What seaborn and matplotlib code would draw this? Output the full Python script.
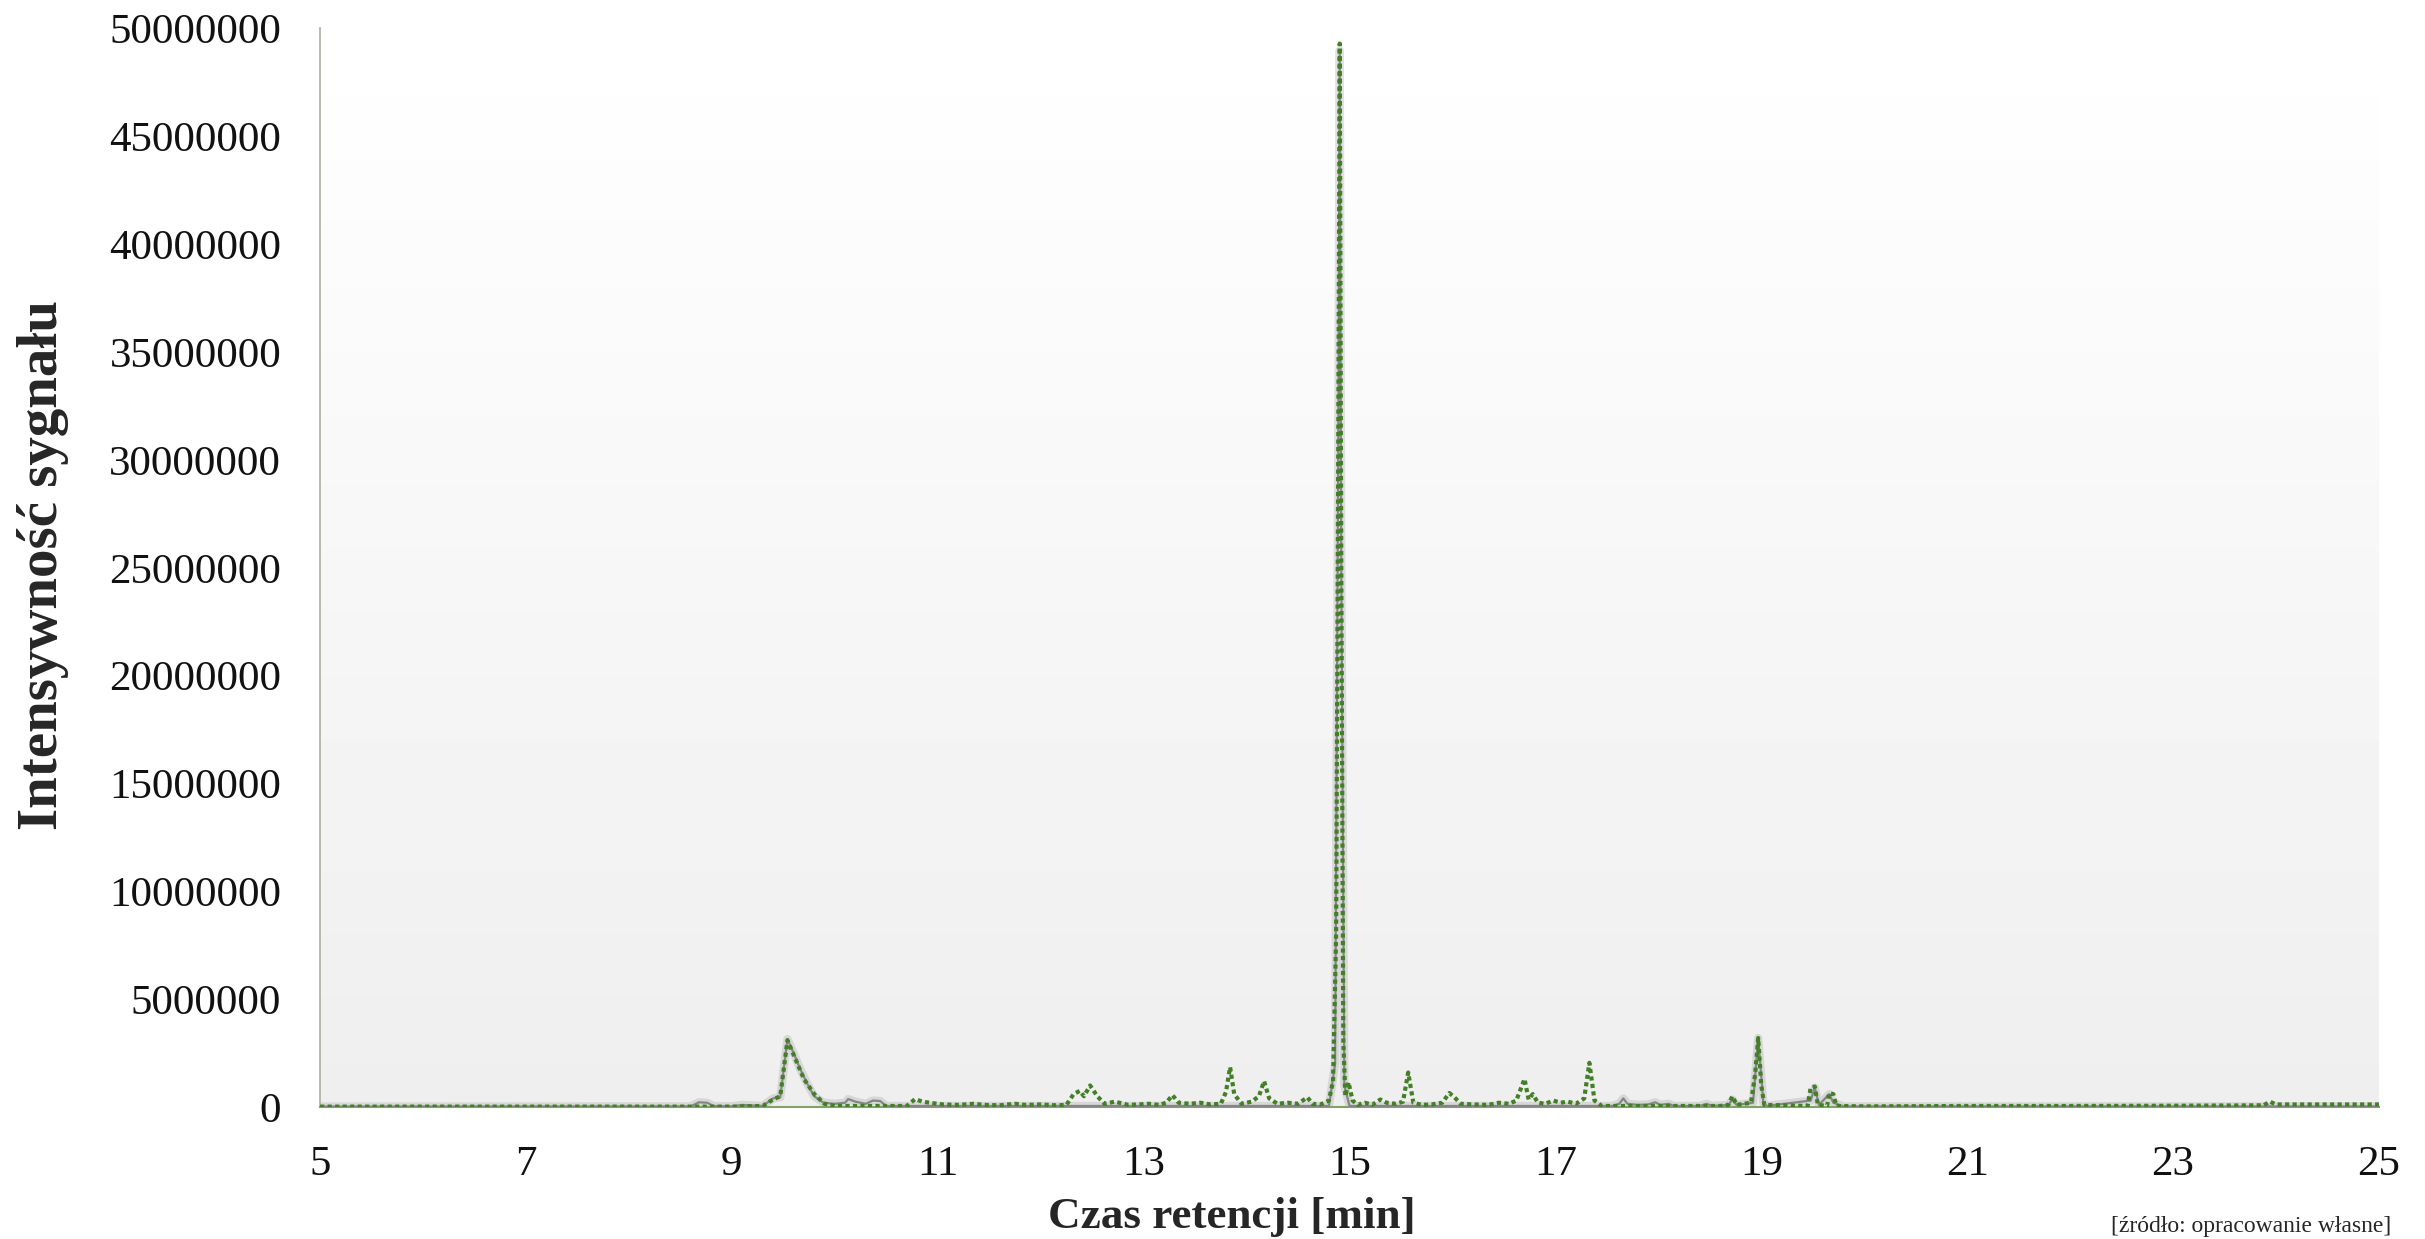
"""
Chromatogram: Intensywność sygnału vs czas retencji.
"""

import numpy as np
import pandas as pd
import matplotlib
matplotlib.use("Agg")
import matplotlib.pyplot as plt
import seaborn as sns

# green dotted series (time [min], intensity [mln])
green_time = [5.0, 9.0, 9.3, 9.40, 9.47, 9.54, 9.62, 9.70, 9.80, 9.90, 10.0, 10.70,
              10.78, 10.85, 10.95, 11.05, 11.2, 11.35, 11.45, 11.6, 11.75, 11.85, 12.0,
              12.15, 12.25, 12.32, 12.38, 12.42, 12.48, 12.55, 12.62, 12.72, 12.85, 12.95,
              13.05, 13.15, 13.22, 13.28, 13.34, 13.45, 13.55, 13.65, 13.75, 13.80, 13.84,
              13.88, 13.95, 14.05, 14.12, 14.17, 14.22, 14.3, 14.4, 14.5, 14.59, 14.64,
              14.72, 14.80, 14.84, 14.87, 14.89, 14.905, 14.92, 14.94, 14.96, 14.99, 15.03,
              15.08, 15.15, 15.22, 15.3, 15.36, 15.45, 15.52, 15.57, 15.62, 15.7, 15.8,
              15.9, 15.97, 16.02, 16.08, 16.2, 16.35, 16.45, 16.55, 16.62, 16.70, 16.74,
              16.78, 16.83, 16.9, 16.98, 17.05, 17.12, 17.2, 17.28, 17.33, 17.38, 17.45,
              18.6, 18.68, 18.72, 18.76, 18.90, 18.94, 18.97, 19.0, 19.03, 19.45, 19.48,
              19.52, 19.55, 19.64, 19.66, 19.70, 19.73, 20.0, 21.0, 22.0, 23.0, 23.88,
              23.94, 24.0, 24.5, 25.0]
green_mln = [0.02, 0.02, 0.05, 0.35, 0.5, 3.1, 2.2, 1.3, 0.6, 0.15, 0.05, 0.05,
             0.37, 0.25, 0.18, 0.12, 0.1, 0.15, 0.1, 0.08, 0.15, 0.1, 0.12,
             0.08, 0.1, 0.6, 0.75, 0.5, 1.0, 0.5, 0.15, 0.25, 0.1, 0.12,
             0.15, 0.1, 0.2, 0.55, 0.2, 0.15, 0.2, 0.12, 0.15, 0.7, 1.85,
             0.6, 0.15, 0.25, 0.5, 1.2, 0.4, 0.15, 0.2, 0.15, 0.45, 0.15,
             0.12, 0.3, 1.2, 8.0, 30.0, 49.3, 25.0, 3.0, 0.5, 1.15, 0.3,
             0.1, 0.2, 0.1, 0.35, 0.2, 0.15, 0.25, 1.6, 0.2, 0.1, 0.12,
             0.2, 0.65, 0.45, 0.15, 0.12, 0.1, 0.2, 0.15, 0.3, 1.3, 0.35,
             0.6, 0.2, 0.15, 0.3, 0.2, 0.25, 0.15, 0.4, 2.05, 0.3, 0.05,
             0.05, 0.1, 0.5, 0.1, 0.2, 1.5, 3.2, 1.0, 0.1, 0.05, 0.9,
             0.95, 0.1, 0.05, 0.65, 0.6, 0.05, 0.03, 0.05, 0.05, 0.06, 0.08,
             0.25, 0.12, 0.12, 0.12]

# gray solid series
gray_time = [5.0, 8.6, 8.68, 8.76, 8.82, 9.0, 9.1, 9.3, 9.40, 9.47, 9.54, 9.60, 9.66,
             9.73, 9.80, 9.89, 10.0, 10.1, 10.13, 10.2, 10.3, 10.37, 10.44, 10.5, 14.8,
             14.86, 14.89, 14.905, 14.92, 14.95, 15.0, 17.55, 17.62, 17.66, 17.70, 17.8,
             17.9, 17.97, 18.02, 18.1, 18.15, 18.4, 18.47, 18.52, 18.68, 18.72, 18.76,
             18.92, 18.97, 19.02, 19.05, 19.48, 19.52, 19.56, 19.66, 19.70, 19.8, 25.0]
gray_mln = [0.02, 0.03, 0.22, 0.2, 0.05, 0.03, 0.1, 0.05, 0.4, 0.45, 3.15, 2.5, 1.8,
            1.1, 0.5, 0.2, 0.15, 0.2, 0.37, 0.25, 0.15, 0.3, 0.28, 0.05, 0.05,
            2.0, 30.0, 49.0, 25.0, 1.0, 0.05, 0.05, 0.15, 0.4, 0.15, 0.1,
            0.12, 0.22, 0.1, 0.15, 0.05, 0.05, 0.15, 0.05, 0.1, 0.35, 0.1,
            0.2, 3.2, 0.2, 0.05, 0.3, 0.9, 0.1, 0.6, 0.2, 0.03, 0.03]

x_ticks = [5, 7, 9, 11, 13, 15, 17, 19, 21, 23, 25]
y_ticks = [0, 5000000, 10000000, 15000000, 20000000, 25000000,
           30000000, 35000000, 40000000, 45000000, 50000000]

sns.set_style("white")
plt.rcParams["font.family"] = ["Liberation Serif", "DejaVu Serif"]

green = pd.DataFrame({"czas": green_time, "intensywnosc": np.array(green_mln) * 1e6})
gray = pd.DataFrame({"czas": gray_time, "intensywnosc": np.array(gray_mln) * 1e6})

fig = plt.figure(figsize=(24.25, 12.39), dpi=100)
ax = fig.add_axes([0.132, 0.1065, 0.849, 0.8705])

# light vertical gradient in the plot area
grad = np.linspace(1.0, 0.935, 256).reshape(-1, 1)
ax.imshow(grad, cmap="gray", vmin=0, vmax=1, aspect="auto",
          extent=[0, 1, 0, 1], transform=ax.transAxes, zorder=0)

# gray series with soft shadow
sns.lineplot(data=gray, x="czas", y="intensywnosc", color="#a0a0a0", lw=6,
             alpha=0.3, ax=ax, zorder=2)
sns.lineplot(data=gray, x="czas", y="intensywnosc", color="#858585", lw=1.6,
             ax=ax, zorder=3)
sns.lineplot(data=green, x="czas", y="intensywnosc", color="#437f26", lw=3.0,
             linestyle=(0, (1, 0.8)), ax=ax, zorder=4)

ax.set_xlim(5, 25)
ax.set_ylim(0, 50000000)
ax.set_xticks(x_ticks)
ax.set_yticks(y_ticks)
ax.set_xticklabels([str(t) for t in x_ticks])
ax.set_yticklabels([str(t) for t in y_ticks])
ax.tick_params(axis="both", length=0, labelsize=31, colors="#111111")
ax.tick_params(axis="y", pad=28)
ax.tick_params(axis="x", pad=28)

for s in ["top", "right"]:
    ax.spines[s].set_visible(False)
ax.spines["left"].set_color("#a8b0a0")
ax.spines["left"].set_linewidth(1.2)
ax.spines["bottom"].set_color("#7fa566")
ax.spines["bottom"].set_linewidth(1.5)

ax.set_xlabel("Czas retencji [min]", fontsize=32.5, fontweight="bold")
ax.xaxis.set_label_coords(0.443, -0.083)
ax.set_ylabel("Intensywność sygnału", fontsize=41, fontweight="bold")
ax.yaxis.set_label_coords(-0.122, 0.503)

fig.text(0.986, 0.002, "[źródło: opracowanie własne]", fontsize=17,
         ha="right", va="bottom")

fig.savefig("out.png", dpi=100)
plt.close(fig)
